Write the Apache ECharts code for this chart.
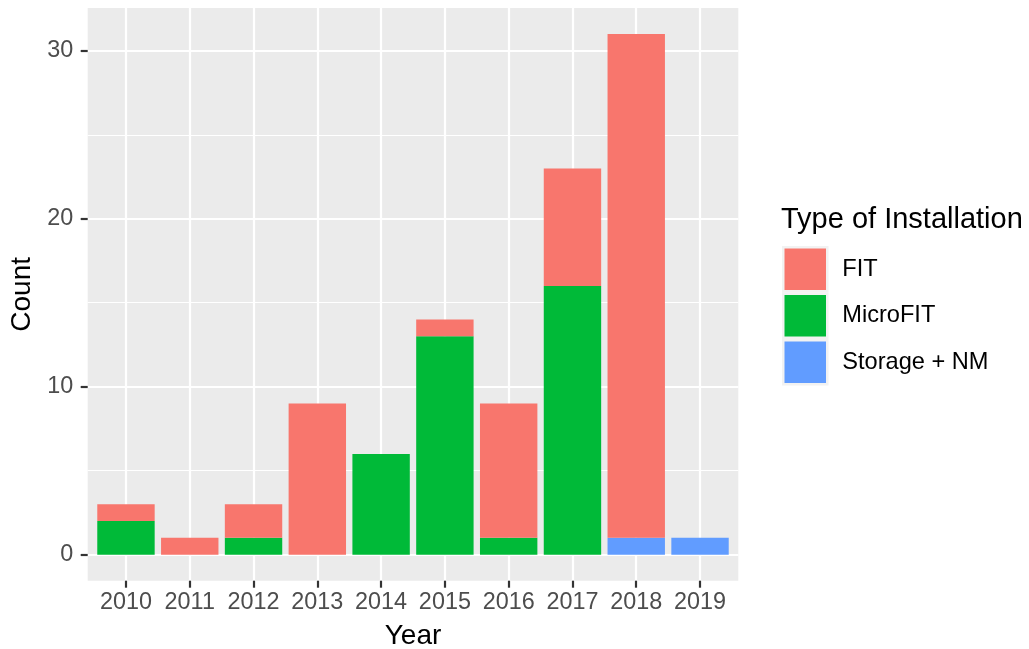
<!DOCTYPE html>
<html>
<head>
<meta charset="utf-8">
<script src="https://cdn.jsdelivr.net/npm/echarts@6/dist/echarts.min.js"></script>
<style>
html,body{margin:0;padding:0;background:#fff;}
#chart{width:1029px;height:649px;}
</style>
</head>
<body>
<div id="chart"></div>
<script>
// ---- data ----
const years = ['2010','2011','2012','2013','2014','2015','2016','2017','2018','2019'];
const fit = [1, 1, 2, 9, 0, 1, 8, 7, 30, 0];
const microfit = [2, 0, 1, 0, 6, 13, 1, 16, 0, 0];
const storage = [0, 0, 0, 0, 0, 0, 0, 0, 1, 1];
const yTicks = [0, 10, 20, 30];
const yMinorTicks = [5, 15, 25];
const seriesNames = ['FIT', 'MicroFIT', 'Storage + NM'];
const colors = {'FIT': '#F8766D', 'MicroFIT': '#00BA38', 'Storage + NM': '#619CFF'};

const xPos = years.map((y, i) => i + 1);
// value first, position second, so the stacked dimension is the value
const pairs = arr => arr.map((v, i) => [v, xPos[i]]);

const tickFont = 'Liberation Sans, Arial, sans-serif';
const chart = echarts.init(document.getElementById('chart'), null, {renderer: 'canvas'});

function barSeries(name, arr) {
  return {
    name: name,
    type: 'bar',
    stack: 'total',
    barWidth: 57.4,
    encode: {x: 1, y: 0},
    data: pairs(arr),
    itemStyle: {color: colors[name]},
    emphasis: {disabled: true},
    animation: false
  };
}

const option = {
  animation: false,
  title: {
    text: 'Type of Installation',
    left: 781,
    top: 205,
    padding: 0,
    textStyle: {fontFamily: tickFont, fontSize: 29, fontWeight: 'normal', color: '#000'}
  },
  legend: {
    data: seriesNames,
    orient: 'vertical',
    left: 782,
    top: 246,
    padding: 0,
    itemWidth: 44,
    itemHeight: 44,
    itemGap: 0,
    icon: 'rect',
    selectedMode: false,
    itemStyle: {borderColor: '#F2F2F2', borderWidth: 2.5},
    textStyle: {fontFamily: tickFont, fontSize: 23.6, color: '#000', padding: [0, 0, 0, 10]}
  },
  grid: {
    left: 87.7,
    top: 8,
    width: 650.6,
    height: 572.7,
    show: true,
    backgroundColor: '#EBEBEB',
    borderWidth: 0,
    outerBoundsMode: 'none'
  },
  xAxis: {
    type: 'value',
    min: 0.4,
    max: 10.6,
    name: 'Year',
    nameLocation: 'middle',
    nameGap: 42,
    nameTextStyle: {fontFamily: tickFont, fontSize: 28, color: '#000'},
    axisLine: {show: false, onZero: false},
    axisTick: {show: true, customValues: xPos, length: 7, lineStyle: {color: '#333333', width: 2.2}},
    axisLabel: {
      customValues: xPos,
      formatter: v => years[Math.round(v) - 1],
      margin: 10,
      fontFamily: tickFont, fontSize: 23.4, color: '#4D4D4D'
    },
    splitLine: {show: true, lineStyle: {color: '#FFFFFF', width: 2.2}}
  },
  yAxis: [{
    type: 'value',
    min: -1.55,
    max: 32.55,
    name: 'Count',
    nameLocation: 'middle',
    nameGap: 50,
    nameRotate: 90,
    nameTextStyle: {fontFamily: tickFont, fontSize: 28, color: '#000'},
    axisLine: {show: false, onZero: false},
    axisTick: {show: true, customValues: yTicks, length: 7, lineStyle: {color: '#333333', width: 2.2}},
    axisLabel: {customValues: yTicks, margin: 14.4, fontFamily: tickFont, fontSize: 23.4, color: '#4D4D4D'},
    splitLine: {show: true, lineStyle: {color: '#FFFFFF', width: 2.2}}
  }, {
    type: 'value',
    position: 'left',
    min: -1.55,
    max: 32.55,
    axisLine: {show: false, onZero: false},
    axisTick: {show: false, customValues: yMinorTicks},
    axisLabel: {show: false, customValues: yMinorTicks},
    splitLine: {show: true, lineStyle: {color: '#FFFFFF', width: 1.1}}
  }],
  series: [
    barSeries('Storage + NM', storage),
    barSeries('MicroFIT', microfit),
    barSeries('FIT', fit)
  ]
};
chart.setOption(option);
</script>
</body>
</html>
